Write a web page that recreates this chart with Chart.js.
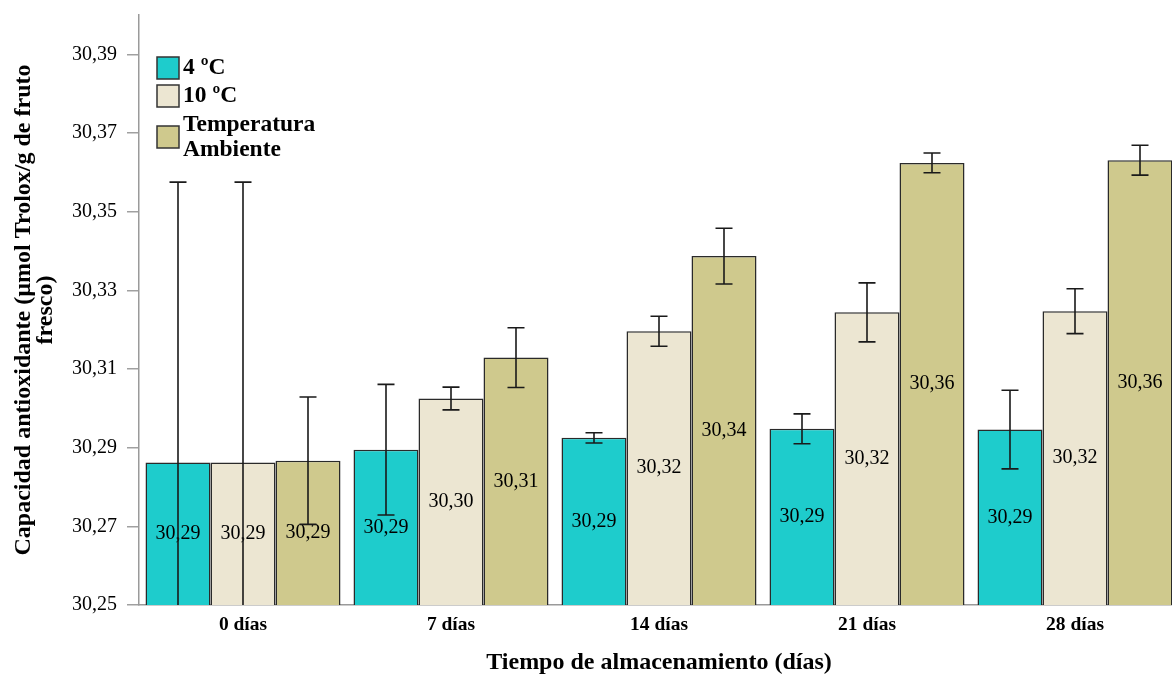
<!DOCTYPE html>
<html>
<head>
<meta charset="utf-8">
<script src="https://cdn.jsdelivr.net/npm/chart.js@4"></script>
<style>
  html, body { margin: 0; padding: 0; background: #ffffff; overflow: hidden; }
  canvas { display: block; }
</style>
</head>
<body>
<canvas id="chart" width="1179" height="678"></canvas>
<script>
// Storage time categories
const categories = ['0 días', '7 días', '14 días', '21 días', '28 días'];

// Series names (line breaks are used by the legend)
const seriesNames = ['4 ºC', '10 ºC', 'Temperatura\nAmbiente'];

// Mean antioxidant capacity (µmol Trolox/g fresh fruit)
const temp4 = [30.2862, 30.2895, 30.2925, 30.2948, 30.2946];
const temp10 = [30.2862, 30.3025, 30.3196, 30.3244, 30.3247];
const tempAmb = [30.2867, 30.3129, 30.3387, 30.3624, 30.3631];

// Error bar half-widths
const err4 = [0.0713, 0.0166, 0.0013, 0.0038, 0.0100];
const err10 = [0.0713, 0.0029, 0.0038, 0.0075, 0.0057];
const errAmb = [0.0162, 0.0076, 0.0071, 0.0025, 0.0038];

// Y axis tick values
const yTicks = [30.25, 30.27, 30.29, 30.31, 30.33, 30.35, 30.37, 30.39];

const seriesColors = ['#1ecccc', '#ece6d2', '#cfc98d'];
const serifFont = "'Liberation Serif', 'Times New Roman', serif";
const fmt = v => v.toFixed(2).replace('.', ',');

const errors = [err4, err10, errAmb];

const valueLabels = {
  id: 'valueLabels',
  afterDatasetsDraw(chart) {
    const ctx = chart.ctx;
    const area = chart.chartArea;
    const yScale = chart.scales.y;
    ctx.save();
    // value labels centred in each bar
    ctx.font = '20px ' + serifFont;
    ctx.fillStyle = '#000000';
    ctx.textAlign = 'center';
    ctx.textBaseline = 'middle';
    chart.data.datasets.forEach((ds, di) => {
      chart.getDatasetMeta(di).data.forEach((bar, i) => {
        const top = yScale.getPixelForValue(ds.data[i]);
        const mid = (top + area.bottom) / 2;
        ctx.fillText(fmt(ds.data[i]), bar.x, mid);
      });
    });
    // error bars, clipped to the plot area
    ctx.beginPath();
    ctx.rect(area.left, area.top, area.right - area.left, area.bottom - area.top);
    ctx.clip();
    ctx.strokeStyle = '#1a1a1a';
    ctx.lineWidth = 1.6;
    chart.data.datasets.forEach((ds, di) => {
      chart.getDatasetMeta(di).data.forEach((bar, i) => {
        const hi = yScale.getPixelForValue(ds.data[i] + errors[di][i]);
        const lo = yScale.getPixelForValue(ds.data[i] - errors[di][i]);
        const cap = 8.5;
        ctx.beginPath();
        ctx.moveTo(bar.x, hi); ctx.lineTo(bar.x, lo);
        ctx.moveTo(bar.x - cap, hi); ctx.lineTo(bar.x + cap, hi);
        ctx.moveTo(bar.x - cap, lo); ctx.lineTo(bar.x + cap, lo);
        ctx.stroke();
      });
    });
    ctx.restore();
  }
};

const boxLegend = {
  id: 'boxLegend',
  afterDraw(chart) {
    const ctx = chart.ctx;
    const x = 157, size = 22;
    const rows = [57, 85, 126];
    ctx.save();
    ctx.font = 'bold 23.5px ' + serifFont;
    ctx.textAlign = 'left';
    ctx.textBaseline = 'middle';
    chart.data.datasets.forEach((ds, di) => {
      const y = rows[di];
      ctx.fillStyle = ds.backgroundColor;
      ctx.fillRect(x, y, size, size);
      ctx.strokeStyle = '#333333';
      ctx.lineWidth = 1.5;
      ctx.strokeRect(x, y, size, size);
      ctx.fillStyle = '#000000';
      const lines = ds.label.split('\n');
      const lh = 25;
      const start = y + size / 2 - (lines.length - 1) * lh / 2;
      lines.forEach((t, k) => ctx.fillText(t, x + size + 4, start + k * lh));
    });
    ctx.restore();
  }
};

new Chart(document.getElementById('chart'), {
  type: 'bar',
  data: {
    labels: categories,
    datasets: [temp4, temp10, tempAmb].map((d, i) => ({
      label: seriesNames[i],
      data: d,
      backgroundColor: seriesColors[i],
      borderColor: '#2a2a2a',
      borderWidth: 1.5,
      borderSkipped: false,
      categoryPercentage: 0.9375,
      barPercentage: 1.0
    }))
  },
  options: {
    responsive: false,
    animation: false,
    devicePixelRatio: 1,
    layout: { padding: { top: 15, left: 0, right: 0, bottom: 0 } },
    plugins: { legend: { display: false }, tooltip: { enabled: false } },
    scales: {
      x: {
        grid: { display: false, drawTicks: false },
        border: { display: true, color: '#9a9a9a', width: 1.5 },
        ticks: { color: '#000', padding: 8, font: { family: serifFont, size: 19.5, weight: 'bold' } },
        title: {
          display: true,
          text: 'Tiempo de almacenamiento (días)',
          color: '#000',
          font: { family: serifFont, size: 24, weight: 'bold', lineHeight: 1.2 },
          padding: { top: 0, bottom: 1 }
        },
        afterFit(scale) {
          scale.height = 73;
          scale.paddingLeft = 0;
          scale.paddingRight = 0;
        }
      },
      y: {
        min: 30.25,
        max: 30.40,
        afterBuildTicks(scale) { scale.ticks = yTicks.map(v => ({ value: v })); },
        grid: { drawOnChartArea: false, drawTicks: true, tickLength: 12, color: '#a0a0a0', lineWidth: 1.5 },
        border: { display: true, color: '#9a9a9a', width: 1.5 },
        ticks: {
          color: '#000',
          padding: 10,
          font: { family: serifFont, size: 20 },
          callback: v => fmt(v)
        },
        title: {
          display: true,
          text: ['Capacidad antioxidante (µmol Trolox/g de fruto', 'fresco)'],
          color: '#000',
          font: { family: serifFont, size: 24, weight: 'bold', lineHeight: 0.95 },
          padding: { top: 12, bottom: 0 }
        },
        afterFit(scale) {
          scale.width = 139;
          scale.paddingTop = 0;
          scale.paddingBottom = 0;
        }
      }
    }
  },
  plugins: [valueLabels, boxLegend]
});
</script>
</body>
</html>
